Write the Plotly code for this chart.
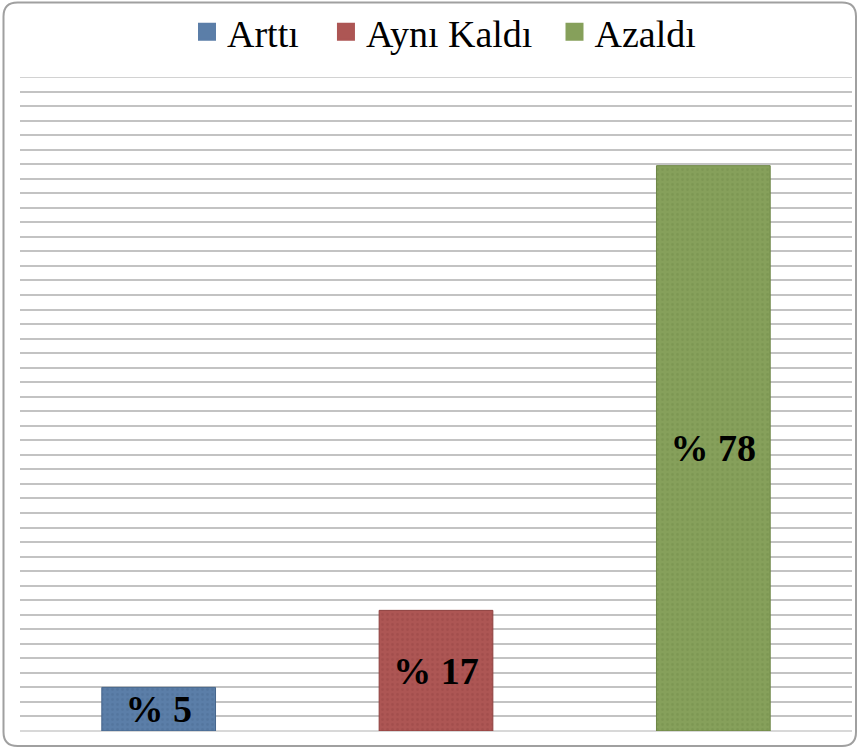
import plotly.graph_objects as go

categories = ["Arttı", "Aynı Kaldı", "Azaldı"]
values = [6, 16.6, 77.8]
labels = ["% 5", "% 17", "% 78"]
colors = ["#5b7ea8", "#ad5654", "#86a05b"]
dark = ["#46668c", "#8e403f", "#6c8544"]
y_max = 90
y_step = 2

W, H = 859, 748
ml, mr, mt, mb = 20, 7, 77, 16.5

fig = go.Figure()
for i, c in enumerate(categories):
    fig.add_trace(go.Bar(
        x=[c], y=[values[i]], name=c, showlegend=False, legendgroup=c,
        marker=dict(color=colors[i], line=dict(color=dark[i], width=1),
                    pattern=dict(shape=".", bgcolor=colors[i], fgcolor=dark[i],
                                 fgopacity=0.35, size=5, solidity=0.25)),
        text=[labels[i]], textposition="inside", insidetextanchor="middle",
        textangle=0, constraintext="none", cliponaxis=False,
        textfont=dict(family="Liberation Serif", size=38, color="black", weight="bold"),
        width=0.41, offsetgroup="g",
    ))
legend_names = [categories[0] + "\u00a0\u00a0\u200a", categories[1] + "\u00a0\u2009", categories[2]]
for i, c in enumerate(categories):
    fig.add_trace(go.Scatter(
        x=[None], y=[None], mode="markers", name=legend_names[i], legendgroup=c,
        marker=dict(symbol="square", size=16, color=colors[i],
                    line=dict(color=colors[i], width=2)),
    ))

pw = W - ml - mr
ph = H - mt - mb
def px(x): return (x - ml) / pw
def py(y): return (H - mb - y) / ph
x0, x1, y0, y1, r = 3.5, 856, 2.5, 746.5, 14
path = (f"M {px(x0+r)},{py(y0)} L {px(x1-r)},{py(y0)} Q {px(x1)},{py(y0)} {px(x1)},{py(y0+r)} "
        f"L {px(x1)},{py(y1-r)} Q {px(x1)},{py(y1)} {px(x1-r)},{py(y1)} "
        f"L {px(x0+r)},{py(y1)} Q {px(x0)},{py(y1)} {px(x0)},{py(y1-r)} "
        f"L {px(x0)},{py(y0+r)} Q {px(x0)},{py(y0)} {px(x0+r)},{py(y0)} Z")

fig.update_layout(
    width=W, height=H,
    margin=dict(l=ml, r=mr, t=mt, b=mb, autoexpand=False),
    paper_bgcolor="white", plot_bgcolor="white",
    barmode="group",
    showlegend=True,
    legend=dict(orientation="h", x=187 / W, xanchor="left", xref="container",
                y=1 - 32 / H, yanchor="middle", yref="container",
                font=dict(family="Liberation Serif", size=38, color="black"),
                itemwidth=30, tracegroupgap=0, bgcolor="rgba(0,0,0,0)"),
    xaxis=dict(showticklabels=False, showgrid=False, showline=False, zeroline=False,
               range=[-0.5, 2.5]),
    yaxis=dict(range=[0, y_max], dtick=y_step, showticklabels=False, showgrid=True,
               gridcolor="#c3c3c3", gridwidth=1.5, zeroline=True, zerolinecolor="#d8d8d8",
               zerolinewidth=1.5, showline=False),
    shapes=[
        dict(type="line", xref="paper", x0=0, x1=1, yref="y", y0=y_max, y1=y_max,
             line=dict(color="#c3c3c3", width=1.5), layer="below"),
        dict(type="path", path=path, xref="paper", yref="paper",
             line=dict(color="#a0a0a0", width=2), fillcolor="rgba(0,0,0,0)", layer="above"),
    ],
)

fig.write_html("out.html", config={"displayModeBar": False},
               post_script="document.body.style.margin='0px';")
